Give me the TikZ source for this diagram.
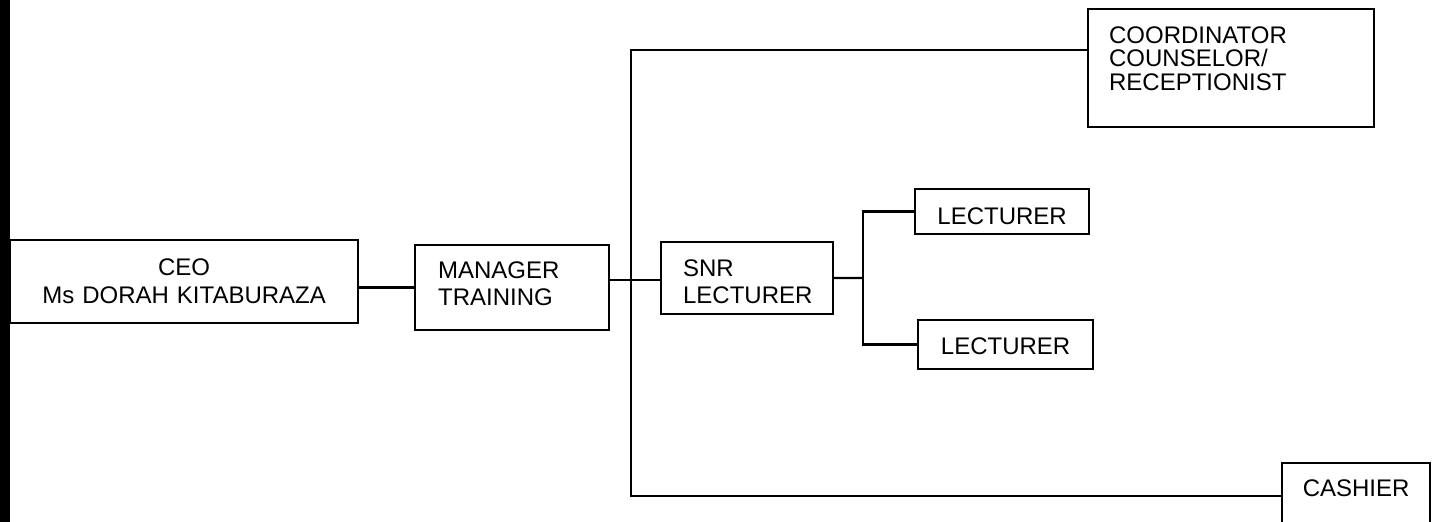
\documentclass[tikz,border=0pt]{standalone}
\usepackage{fontspec}
\setmainfont{Liberation Sans}
\usetikzlibrary{positioning}

\begin{document}
\begin{tikzpicture}[
  x=0.5pt,
  y=-0.5pt,
  post/.style={draw=black, line width=1.1pt, anchor=north west, inner ysep=0pt,
    font=\fontsize{12}{13.5}\selectfont},
  link/.style={black, line width=1.1pt}
]
  \useasboundingbox (0,0) rectangle (1436,522);
  \clip (0,0) rectangle (1436,522);
  \fill[black] (0,0) rectangle (10,522);

  \node[post, inner xsep=0pt, text width=174pt, align=center, text height=17.5pt,
    text depth=24pt, font=\fontsize{12}{14}\selectfont] (ceo) at (9,239)
    {CEO\\Ms DORAH KITABURAZA\hspace*{9pt}};
  \node[post, inner xsep=11.5pt, text width=74pt, align=left, text height=16.5pt,
    text depth=26pt] (mgr) at (414,244) {MANAGER\\TRAINING};
  \node[post, inner xsep=11pt, text width=64pt, align=left, text height=17pt,
    text depth=19pt] (snr) at (660,241) {SNR\\LECTURER};
  \node[post, inner xsep=10.5pt, text width=122pt, align=left, text height=17pt,
    text depth=42pt, font=\fontsize{12}{11.75}\selectfont] (coord) at (1087,8)
    {COORDINATOR\\COUNSELOR/\\RECEPTIONIST};
  \node[post, inner xsep=0pt, text width=87pt, align=center, text height=17.5pt,
    text depth=5pt] (lect1) at (914,188) {LECTURER};
  \node[post, inner xsep=0pt, text width=87.5pt, align=center, text height=17pt,
    text depth=7.5pt] (lect2) at (917,319) {LECTURER};
  \node[post, inner xsep=0pt, text width=74pt, align=center, text height=16.5pt,
    text depth=18pt] (cashier) at (1281,462) {CASHIER};

  \coordinate (jmid) at (631,280);
  \coordinate (jtop) at (631,50);
  \coordinate (jbot) at (631,496);
  \coordinate (bmid) at (863,278);

  \draw[link] (mgr.west) -- (mgr.west -| ceo.east);
  \draw[link] (mgr.east |- jmid) -- (jmid) -- (snr.west |- jmid);
  \draw[link] (coord.west |- jtop) -- (jtop) -- (jbot) -- (cashier.west |- jbot);
  \draw[link] (snr.east) -- (bmid);
  \draw[link] (lect1.west) -- (lect1.west -| bmid) -- (lect2.west -| bmid) -- (lect2.west);
\end{tikzpicture}
\end{document}
